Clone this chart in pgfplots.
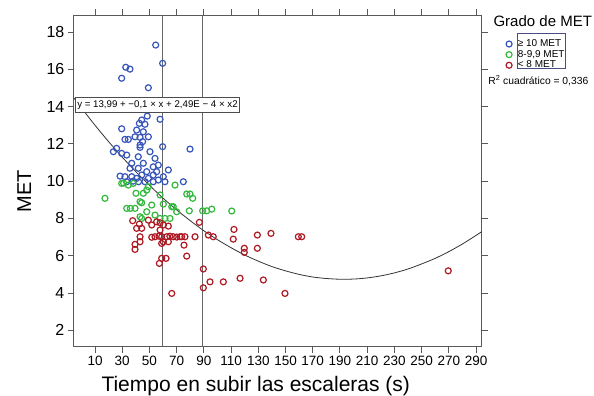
\documentclass[border=0pt]{standalone}
\usepackage{fontspec}
\setmainfont{Liberation Sans}
\usepackage{pgfplots}
\pgfplotsset{compat=1.18}
\definecolor{cblue}{RGB}{55,85,185}
\definecolor{cgreen}{RGB}{50,185,60}
\definecolor{cred}{RGB}{175,25,35}
\begin{document}
\begin{tikzpicture}
\begin{axis}[
  scale only axis, width=407.7pt, height=331.7pt,
  xmin=-5.5, xmax=294.1, ymin=1.12, ymax=18.91,
  xtick={10,30,...,290}, ytick={2,4,...,18},
  tick align=outside, major tick length=6pt,
  axis line style={black!65, line width=0.9pt},
  tick style={black!65, line width=0.9pt},
  xticklabel style={font=\fontsize{13.5}{14}\selectfont},
  yticklabel style={font=\fontsize{16}{17}\selectfont},
  /pgf/number format/assume math mode=true,
  clip=false,
  legend style={at={(1.0522,0.9352)}, anchor=north west, draw=none, fill=none,
    font=\fontsize{10}{10}\selectfont,
    nodes={inner sep=0.8pt, text height=7pt, text depth=2pt},
    row sep=0pt, /tikz/every odd column/.append style={column sep=5pt}},
  legend cell align=left,
  legend image code/.code={\draw[mark repeat=2,mark phase=2] plot coordinates {(0pt,0pt)(4pt,0pt)(8pt,0pt)};},
]
% blue >= 10
\addplot[only marks, mark=o, mark size=3pt, cblue, line width=1.2pt] coordinates {
(54.6,17.30) (59.7,16.32) (32.6,16.11) (35.7,16.01) (29.6,15.52) (49.2,15.01)
(44.3,13.28) (48.4,13.49) (42.6,13.10) (57.8,13.32) (46.7,13.05) (29.6,12.81) (40.6,12.74) (45.5,12.65)
(32.0,12.24) (34.5,12.24) (39.4,12.38) (43.1,12.35) (49.2,12.38) (45.0,12.12)
(25.9,11.76) (43.1,11.81)
(23.5,11.58) (29.6,11.49) (43.1,11.94) (50.4,11.58) (59.7,11.85) (79.8,11.72)
(33.3,11.40) (41.8,11.31) (54.1,11.22) (37.0,10.96) (45.5,10.96) (52.8,10.77) (56.5,10.86)
(35.7,10.69) (41.8,10.69) (48.0,10.51) (55.3,10.51) (63.9,10.60)
(28.4,10.27) (32.0,10.24) (37.0,10.24) (40.6,10.15) (44.3,10.33) (49.2,10.15) (52.8,10.33)
(56.5,10.06) (60.2,10.24) (61.4,9.97) (33.3,9.97) (46.7,9.97) (52.8,9.97) (74.9,9.97) (38.0,10.0) (42.0,9.97)
};
\addlegendentry{≥ 10 MET}
% green 8-9.9
\addplot[only marks, mark=o, mark size=3pt, cgreen, line width=1.2pt] coordinates {
(17.3,9.08) (29.6,9.88) (34.5,9.79) (38.1,9.88) (49.2,9.70) (48.0,9.52) (40.1,9.35) (45.5,9.35)
(57.8,9.26) (68.8,9.79) (77.4,9.31) (79.8,9.31) (81.8,9.08) (43.1,8.90) (33.3,8.54) (39.4,8.54)
(48.0,8.36) (54.1,8.18) (66.4,8.63) (70.0,8.36) (79.3,8.41) (89.1,8.41) (92.1,8.41) (95.8,8.50)
(110.5,8.40) (44.3,8.0) (57.8,8.0) (61.4,8.0) (65.1,8.0) (51.7,8.72) (44.3,8.84) (60.2,8.77)
(67.5,8.63) (43.1,8.09) (36.0,8.54) (31.0,9.9)
};
\addlegendentry{8-9,9 MET}
% red < 8
\addplot[only marks, mark=o, mark size=3pt, cred, line width=1.2pt] coordinates {
(37.7,7.88) (42.6,7.70) (49.2,7.91) (55.3,7.82) (57.8,7.77) (60.2,7.65) (63.9,7.59) (40.6,7.47)
(44.3,7.47) (51.7,7.65) (57.8,7.38) (86.7,7.79)
(43.1,7.02) (51.7,6.99) (54.1,7.02) (57.0,7.05) (59.0,7.02) (62.7,7.02) (65.0,7.05) (67.5,7.02)
(70.0,7.0) (72.5,7.02) (73.7,7.02) (76.1,7.02) (83.5,7.02) (93.3,7.11) (96.9,7.02)
(43.1,6.75) (39.4,6.61) (59.0,6.66) (60.2,6.75) (63.9,6.75) (39.4,6.34) (75.4,6.57)
(77.4,5.98) (59.0,5.86) (62.2,5.86) (57.3,5.59) (89.6,5.29) (94.5,4.60) (104.3,4.60) (89.6,4.28) (66.4,3.98)
(112.1,7.41) (111.6,6.89) (129.3,7.11) (139.3,7.20) (159.4,7.02) (161.9,7.02) (119.7,6.40) (119.7,6.18)
(129.3,6.40) (116.6,4.79) (133.7,4.70) (149.6,3.98) (269.6,5.19)
};
\addlegendentry{< 8 MET}
% reference lines
\addplot[black!60, line width=1pt, forget plot] coordinates {(59.7,1.12) (59.7,18.91)};
\addplot[black!60, line width=1pt, forget plot] coordinates {(89.2,1.12) (89.2,18.91)};
% quadratic fit
\addplot[black!80, line width=0.8pt, smooth, forget plot] coordinates {
(-5.5,14.46) (0,13.93) (10,13.00) (20,12.12) (30,11.29) (40,10.51) (50,9.78) (60,9.09) (70,8.46)
(80,7.88) (90,7.34) (100,6.86) (110,6.43) (120,6.04) (130,5.71) (140,5.42) (150,5.19) (160,5.00)
(170,4.86) (180,4.78) (190,4.74) (200,4.75) (210,4.81) (220,4.92) (230,5.08) (240,5.29) (250,5.56)
(260,5.86) (270,6.22) (280,6.63) (290,7.09) (294.1,7.29)
};
\node[anchor=west, draw=black!70, fill=white, line width=0.8pt, inner xsep=2pt, inner ysep=3pt,
  font=\fontsize{9.7}{10}\selectfont] at (axis cs:-4.8,14.1) {y = 13,99 + −0,1 × x + 2,49E − 4 × x2};
\node[anchor=base west, font=\fontsize{15}{16}\selectfont] at (axis cs:300.3,18.27) {Grado de MET};
\draw[black!45!blue!40!gray, line width=0.7pt] (axis cs:320.1,17.93) rectangle (axis cs:355.4,16.05);
\node[anchor=base west, font=\fontsize{10.3}{11}\selectfont] at (axis cs:296.5,15.21) {R\textsuperscript{2} cuadrático = 0,336};
\node[anchor=base west, font=\fontsize{21}{22}\selectfont] at (axis cs:12.2,-1.26) {Tiempo en subir las escaleras (s)};
\node[anchor=base, rotate=90, font=\fontsize{20}{21}\selectfont] at (axis cs:-37.0,9.47) {MET};
\coordinate (bbA) at (axis cs:-59.82,-1.474);
\coordinate (bbB) at (axis cs:376.7,19.717);
\end{axis}
\pgfresetboundingbox
\useasboundingbox (bbA) rectangle (bbB);
\end{tikzpicture}
\end{document}
